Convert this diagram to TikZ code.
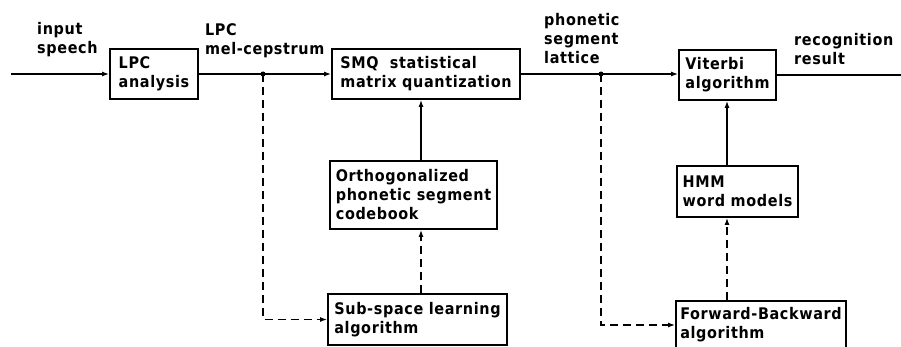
\documentclass[tikz,border=0pt]{standalone}
\usepackage{fontspec}
\setmainfont{DejaVu Sans Condensed}[LetterSpace=4]
\usetikzlibrary{arrows.meta}
\begin{document}
\begin{tikzpicture}[x=1pt,y=-1pt,
  txt/.style={font=\fontsize{16}{19}\selectfont\bfseries, align=left, inner sep=0pt},
  box/.style={txt, draw, line width=1.8pt, inner sep=4pt},
  flow/.style={line width=1.3pt, -{Latex[length=7pt,width=5pt]}},
  plain/.style={line width=1.3pt},
  dflow/.style={flow, dash pattern=on 8pt off 5pt},
  junction/.style={circle, fill, inner sep=0pt, minimum size=5pt}]
\useasboundingbox (0,0) rectangle (901,347);

% processing blocks
\node[box, minimum width=88pt,  minimum height=50pt] (lpc)  at (154,74)   {LPC\\analysis};
\node[box, minimum width=188pt, minimum height=50pt] (smq)  at (426,74)   {SMQ\ \ statistical\\matrix quantization};
\node[box, minimum width=97pt,  minimum height=50pt] (vit)  at (727.5,75) {Viterbi\\algorithm};
\node[box, minimum width=167pt, minimum height=68pt] (orth) at (413.5,195){Orthogonalized\\phonetic segment\\codebook};
\node[box, minimum width=179pt, minimum height=51pt] (sub)  at (417.5,319.5){Sub-space learning\\algorithm};
\node[box, minimum width=121pt, minimum height=51pt] (hmm)  at (737.5,191.5){HMM\\word models};
\node[box, minimum width=170pt, minimum height=48pt] (fb)   at (761,325)  {Forward-Backward\\algorithm};

% signal labels (anchored at the baseline of their last line)
\node[txt, anchor=base west] (lin)  at (37,54)  {input\\speech};
\node[txt, anchor=base west] (lmel) at (205,55) {LPC\\mel-cepstrum};
\node[txt, anchor=base west] (llat) at (544,64) {phonetic\\segment\\lattice};
\node[txt, anchor=base west] (lres) at (794,65) {recognition\\result};

% free ends and branch points
\coordinate (in)  at (11,74);
\coordinate (out) at (901,75);
\coordinate (j1)  at (263,74);
\coordinate (j2)  at (601,74);
\coordinate (c1)  at (421,0);
\coordinate (c2)  at (727,0);

% main signal path
\draw[flow]  (in) -- (lpc.west);
\draw[flow]  (lpc.east) -- (smq.west);
\draw[flow]  (smq.east) -- (vit.west |- smq.east);
\draw[plain] (vit.east) -- (out);
\node[junction] at (j1) {};
\node[junction] at (j2) {};

% codebook and model paths
\draw[flow]  (orth.north -| c1) -- (smq.south -| c1);
\draw[dflow] (sub.north -| c1) -- (orth.south -| c1);
\draw[flow]  (hmm.north -| c2) -- (vit.south -| c2);
\draw[dflow] (fb.north -| c2) -- (hmm.south -| c2);

% training paths
\draw[dflow] (j1) |- (sub.west);
\draw[dflow] (j2) |- (fb.west);
\end{tikzpicture}
\end{document}
